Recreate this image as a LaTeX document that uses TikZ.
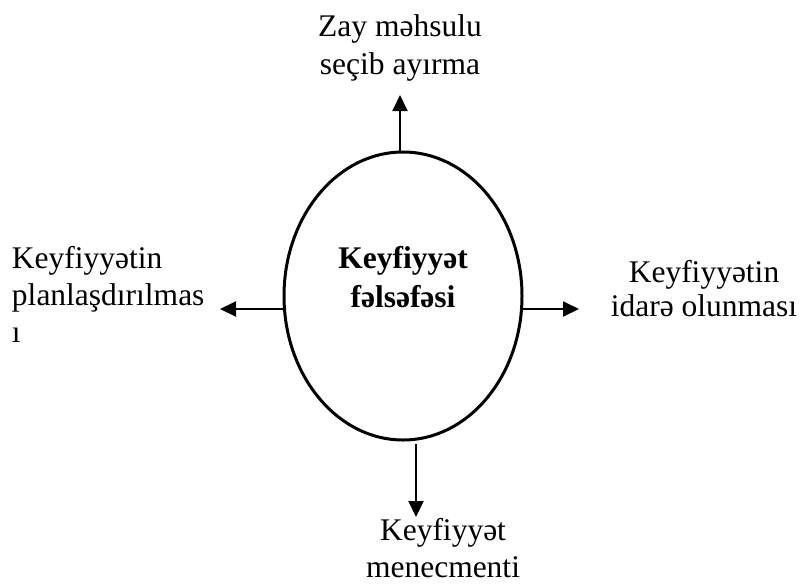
\documentclass[tikz,border=0pt]{standalone}
\usepackage{fontspec}
\setmainfont{Liberation Serif}
\usetikzlibrary{shapes.geometric,arrows.meta}
\begin{document}
\begin{tikzpicture}[x=1pt,y=-1pt,
  lbl/.style={font=\fontsize{31.5}{37}\selectfont, inner sep=0pt, outer sep=0pt},
  arr/.style={line width=2pt, -{Triangle[length=16pt,width=15pt]}},
  oval/.style={ellipse, draw, line width=3pt, minimum width=238pt, minimum height=288pt, inner sep=0pt, outer sep=0pt}]
\useasboundingbox (0,0) rectangle (800,584);
\node[oval] (phil) at (403,296) {};
\node[lbl, font=\bfseries\fontsize{31.5}{39}\selectfont, align=center, anchor=base] (philtext) at (403,307) {Keyfiyyət\\fəlsəfəsi};
\node[lbl, font=\fontsize{31.5}{38}\selectfont, align=center, anchor=base] (top) at (400,74) {Zay məhsulu\\seçib ayırma};
\node[lbl, align=left, anchor=base west] (left) at (12,342) {Keyfiyyətin\\planlaşdırılmas\\ı};
\node[lbl, font=\fontsize{31.5}{34}\selectfont, align=center, anchor=base] (right) at (704,316) {Keyfiyyətin\\idarə olunması};
\node[lbl, align=center, anchor=base] (bottom) at (443,577) {Keyfiyyət\\menecmenti};
\coordinate (tT) at (400,95);
\coordinate (tL) at (220,309);
\coordinate (tR) at (579,309);
\coordinate (tB) at (416,517);
\draw[arr] (phil.north -| tT) -- (tT);
\draw[arr] (phil.west |- tL) -- (tL);
\draw[arr] (phil.east |- tR) -- (tR);
\draw[arr, shorten <=4pt] (phil.south -| tB) -- (tB);
\end{tikzpicture}
\end{document}
